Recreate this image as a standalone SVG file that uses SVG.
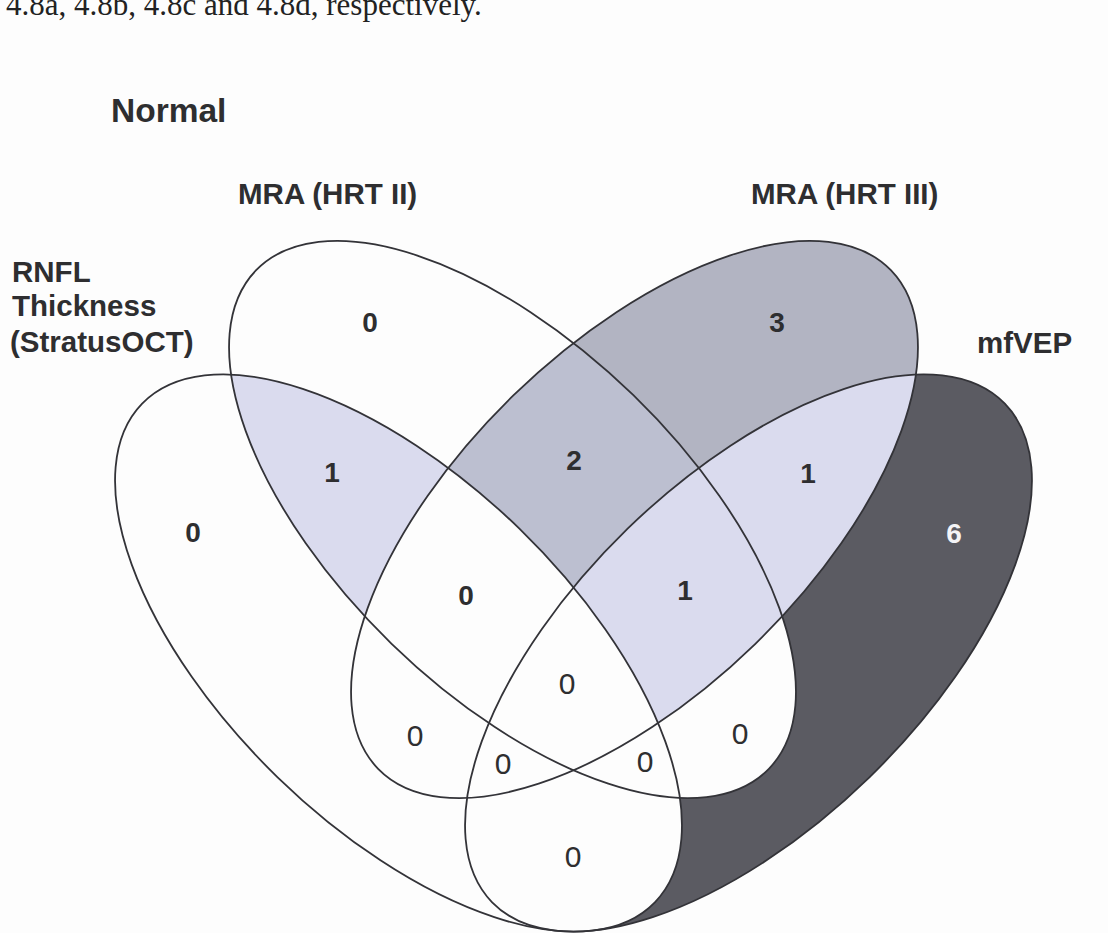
<svg xmlns="http://www.w3.org/2000/svg" xmlns:xlink="http://www.w3.org/1999/xlink" width="1108" height="933" viewBox="0 0 1108 933">
<style>
.lbl{font-family:"Liberation Sans",Arial,sans-serif;font-weight:bold;font-size:29.5px;fill:#2e2e30}
.nb{font-family:"Liberation Sans",Arial,sans-serif;font-weight:bold;font-size:28px;fill:#2e2e30;text-anchor:middle}
.nr{font-family:"Liberation Sans",Arial,sans-serif;font-size:30px;fill:#2e2e30;text-anchor:middle}
.ol{fill:none;stroke:#333338;stroke-width:1.8}
</style>
<defs>
<ellipse id="eA" cx="0" cy="0" rx="357.6" ry="173.4" transform="translate(398.5 653) rotate(44.2)"/>
<ellipse id="eB" cx="0" cy="0" rx="357.6" ry="173.4" transform="translate(512.5 519.5) rotate(44.2)"/>
<ellipse id="eC" cx="0" cy="0" rx="357.6" ry="173.4" transform="translate(634.5 519.5) rotate(-44.2)"/>
<ellipse id="eD" cx="0" cy="0" rx="357.6" ry="173.4" transform="translate(748.5 653) rotate(-44.2)"/>
<clipPath id="cA"><use xlink:href="#eA"/></clipPath>
<clipPath id="cB"><use xlink:href="#eB"/></clipPath>
<clipPath id="cC"><use xlink:href="#eC"/></clipPath>
<clipPath id="cD"><use xlink:href="#eD"/></clipPath>
</defs>
<rect width="1108" height="933" fill="#fdfdfd"/>
<text x="6" y="15" font-family="'Liberation Serif','Times New Roman',serif" font-size="31" fill="#222">4.8a, 4.8b, 4.8c and 4.8d, respectively.</text>
<text x="111" y="122" font-family="'Liberation Sans',Arial,sans-serif" font-weight="bold" font-size="33.5" fill="#2e2e30">Normal</text>
<g id="regions">
<use xlink:href="#eD" fill="#5b5b62"/>
<use xlink:href="#eC" fill="#b2b4c2"/>
<use xlink:href="#eA" fill="#fdfdfd"/>
<use xlink:href="#eB" fill="#fdfdfd"/>
<g clip-path="url(#cB)"><use xlink:href="#eC" fill="#bcbfd0"/></g>
<g clip-path="url(#cA)"><use xlink:href="#eB" fill="#dadbee"/></g>
<g clip-path="url(#cC)"><use xlink:href="#eD" fill="#dadbee"/></g>
<g clip-path="url(#cA)"><use xlink:href="#eC" fill="#fdfdfd"/></g>
<g clip-path="url(#cA)"><g clip-path="url(#cB)"><use xlink:href="#eD" fill="#fdfdfd"/></g></g>
</g>
<g id="set-rnfl">
<use xlink:href="#eA" class="ol"/>
<text class="lbl" x="12" y="282">RNFL</text>
<text class="lbl" x="12" y="316">Thickness</text>
<text class="lbl" x="10" y="352">(StratusOCT)</text>
</g>
<g id="set-hrt2">
<use xlink:href="#eB" class="ol"/>
<text class="lbl" x="238" y="204">MRA (HRT II)</text>
</g>
<g id="set-hrt3">
<use xlink:href="#eC" class="ol"/>
<text class="lbl" x="751" y="204">MRA (HRT III)</text>
</g>
<g id="set-mfvep">
<use xlink:href="#eD" class="ol"/>
<text class="lbl" x="977" y="353">mfVEP</text>
</g>
<g id="counts">
<text class="nb" x="193" y="542">0</text>
<text class="nb" x="370" y="332">0</text>
<text class="nb" x="777" y="332">3</text>
<text class="nb" x="954" y="543" style="fill:#f4f4f6">6</text>
<text class="nb" x="332" y="482">1</text>
<text class="nb" x="574" y="470">2</text>
<text class="nb" x="808" y="483">1</text>
<text class="nb" x="466" y="605">0</text>
<text class="nb" x="685" y="600">1</text>
<text class="nr" x="567" y="694">0</text>
<text class="nr" x="415" y="746">0</text>
<text class="nr" x="740" y="744">0</text>
<text class="nr" x="503" y="774">0</text>
<text class="nr" x="645" y="772">0</text>
<text class="nr" x="573" y="867">0</text>
</g>
</svg>
